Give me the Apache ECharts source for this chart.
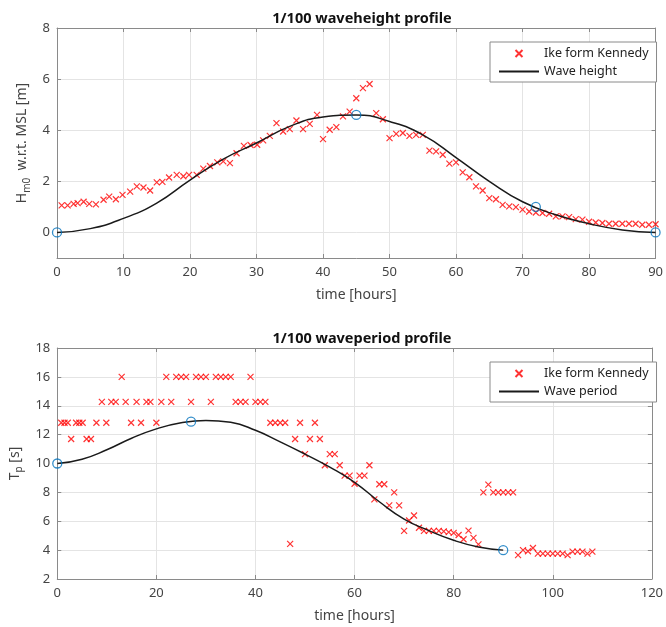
<!DOCTYPE html>
<html>
<head>
<meta charset="utf-8">
<script src="https://cdn.jsdelivr.net/npm/echarts@6/dist/echarts.min.js"></script>
<style>
html,body{margin:0;padding:0;background:#fff;}
#chart{width:666px;height:627px;}
</style>
</head>
<body>
<div id="chart"></div>
<script>
// ---------- DATA ----------
const heightTitle = '1/100 waveheight profile';
const periodTitle = '1/100 waveperiod profile';
const xName = 'time [hours]';
const obsName = 'Ike form Kennedy';
const heightLineName = 'Wave height';
const periodLineName = 'Wave period';

const heightXTicks = [0, 10, 20, 30, 40, 50, 60, 70, 80, 90];
const heightYTicks = [0, 2, 4, 6, 8];
const periodXTicks = [0, 20, 40, 60, 80, 100, 120];
const periodYTicks = [2, 4, 6, 8, 10, 12, 14, 16, 18];

// observed wave height [hour, m]
const heightObs = [
  [0.7,1.06],[1.6,1.06],[2.5,1.12],[3.1,1.15],[4.0,1.2],[4.85,1.12],[5.85,1.1],[7.0,1.28],[7.85,1.4],[8.85,1.3],
  [9.85,1.47],[11.0,1.6],[12.0,1.8],[13.0,1.76],[14.0,1.64],[15.0,1.96],[15.85,1.98],[16.85,2.15],[18.0,2.25],[19.0,2.2],
  [19.85,2.25],[21.0,2.25],[22.0,2.5],[23.0,2.6],[24.1,2.74],[25.0,2.78],[26.0,2.71],[27.0,3.1],[28.1,3.39],[29.1,3.42],
  [30.1,3.43],[31.0,3.6],[32.0,3.78],[33.0,4.28],[34.0,3.95],[35.0,4.04],[36.0,4.38],[37.0,4.04],[38.0,4.25],[39.1,4.6],
  [40.0,3.65],[41.0,4.02],[42.0,4.12],[43.0,4.54],[44.0,4.73],[45.0,5.25],[46.0,5.65],[47.0,5.81],[48,4.67],[49,4.43],
  [50,3.69],[51,3.86],[52,3.89],[53,3.78],[54,3.82],[55,3.82],[56,3.2],[57,3.17],[58,3.04],[59,2.69],
  [60,2.74],[61,2.35],[62,2.16],[63,1.8],[64,1.64],[65,1.34],[66,1.3],[67,1.08],[68,1.02],[69,0.99],
  [70,0.89],[71,0.82],[72,0.78],[73,0.76],[74,0.73],[75,0.63],[76,0.63],[77,0.6],[78,0.52],[79,0.5],
  [80,0.42],[81,0.39],[82,0.37],[83,0.34],[84,0.34],[85,0.34],[86,0.34],[87,0.34],[88,0.3],[89,0.3],[90,0.32]
];
// design wave height profile [hour, m]
const heightCurve = [
  [0,0],[5,0.15],[10,0.55],[15,1.15],[20,2.05],[25,2.87],[30,3.5],[35,4.15],[40,4.52],[45,4.6],
  [50,4.34],[55,3.82],[60,2.93],[65,2.0],[70,1.2],[75,0.69],[80,0.34],[85,0.1],[90,0]
];
const heightNodes = [[0,0],[45,4.6],[72,1.0],[90,0]];

// observed wave period [hour, s]
const periodObs = [
  [0.8,12.82],[1.46,12.82],[2.12,12.82],[2.8,11.7],[3.8,12.82],[4.45,12.82],[5.12,12.82],[5.92,11.7],[6.8,11.7],[7.9,12.82],
  [9,14.27],[9.9,12.82],[10.9,14.27],[11.8,14.27],[13,16],[13.8,14.27],[14.9,12.82],[16,14.27],[16.9,12.82],[18,14.27],
  [18.8,14.27],[20,12.82],[21,14.27],[22,16],[23,14.27],[24,16],[25,16],[26,16],[27,14.27],[28,16],
  [29,16],[30,16],[31,14.27],[32,16],[33,16],[34,16],[35,16],[36,14.27],[37,14.27],[38,14.27],
  [39,16],[40,14.27],[41,14.27],[42,14.27],[43,12.82],[44,12.82],[45,12.82],[46,12.82],[47,4.43],[48,11.7],
  [49,12.82],[50,10.65],[51,11.7],[52,12.82],[53,11.7],[54,9.88],[55,10.65],[56,10.65],[57,9.88],[58,9.16],
  [59,9.16],[60,8.6],[61,9.16],[62,9.16],[63,9.88],[64,7.52],[65,8.56],[66,8.56],[67,7.1],[68,8.0],
  [69,7.1],[70,5.33],[71,6.05],[72,6.4],[73,5.55],[74,5.33],[75,5.33],[76,5.33],[77,5.33],[78,5.3],
  [79,5.25],[80,5.2],[81,5.05],[82,4.75],[83,5.35],[84,4.85],[85,4.4],[86,8.0],[87,8.54],[88,8.0],
  [89,8.0],[90,8.0],[91,8.0],[92,8.0],[93,3.65],[94,4.0],[95,3.92],[96,4.15],[97,3.76],[98,3.76],
  [99,3.76],[100,3.76],[101,3.76],[102,3.76],[103,3.65],[104,3.9],[105,3.9],[106,3.9],[107,3.76],[108,3.9]
];
// design wave period profile [hour, s]
const periodCurve = [
  [0,10],[5,10.3],[10,10.95],[15,11.75],[20,12.4],[25,12.82],[30,12.98],[35,12.85],[40,12.3],
  [45,11.5],[50,10.65],[55,9.75],[60,8.7],[65,7.35],[70,6.15],[75,5.35],[80,4.68],[85,4.22],[90,4.0]
];
const periodNodes = [[0,10],[27,12.9],[90,4.0]];

// ---------- STYLE ----------
const FONT = 'Noto Sans';
const axisGray = '#8a8a8a';
const labelGray = '#444';
const gridGray = '#e4e4e4';
const crossPath = 'path://M0,0L10,10M10,0L0,10';

function xAxes(gridIndex, max, interval, ticks) {
  return [
    {
      gridIndex, type: 'value', min: 0, max, interval, position: 'bottom',
      name: xName, nameLocation: 'middle', nameGap: 30,
      nameTextStyle: { fontFamily: FONT, fontSize: 14, color: labelGray },
      axisLine: { show: true, onZero: false, lineStyle: { color: axisGray, width: 1 } },
      axisTick: { show: true, inside: true, length: 4, lineStyle: { color: axisGray } },
      axisLabel: { show: true, margin: 8, fontFamily: FONT, fontSize: 13, color: labelGray,
        formatter: v => (ticks.indexOf(v) >= 0 ? String(v) : '') },
      splitLine: { show: true, lineStyle: { color: gridGray, width: 1 } }
    },
    {
      gridIndex, type: 'value', min: 0, max, interval, position: 'top',
      axisLine: { show: true, onZero: false, lineStyle: { color: axisGray, width: 1 } },
      axisTick: { show: true, inside: true, length: 4, lineStyle: { color: axisGray } },
      axisLabel: { show: false },
      splitLine: { show: false }
    }
  ];
}

function yAxes(gridIndex, min, max, ticks, name, rich, nameGap) {
  const common = {
    gridIndex, type: 'value', min, max,
    axisTick: { show: true, inside: true, length: 4, lineStyle: { color: axisGray }, customValues: ticks },
    axisLine: { show: true, onZero: false, lineStyle: { color: axisGray, width: 1 } }
  };
  return [
    Object.assign({}, common, {
      position: 'left',
      name, nameLocation: 'middle', nameGap,
      nameTextStyle: { fontFamily: FONT, fontSize: 14, color: labelGray, rich },
      axisLabel: { show: true, margin: 7, fontFamily: FONT, fontSize: 13, color: labelGray, customValues: ticks },
      splitLine: { show: true, lineStyle: { color: gridGray, width: 1 } }
    }),
    Object.assign({}, common, {
      position: 'right',
      axisLabel: { show: false, customValues: ticks },
      splitLine: { show: false }
    })
  ];
}

const subRich = {
  a: { fontFamily: FONT, fontSize: 14, color: labelGray, lineHeight: 19 },
  b: { fontFamily: FONT, fontSize: 10, color: labelGray, lineHeight: 11, verticalAlign: 'bottom' }
};

function legend(lineName, top) {
  return {
    data: [obsName, lineName],
    orient: 'vertical',
    left: 490, top,
    width: 154,
    backgroundColor: '#fff',
    borderColor: '#8a8a8a', borderWidth: 1, borderRadius: 0,
    padding: [5, 8, 4, 8],
    itemWidth: 40, itemHeight: 7, itemGap: 5,
    textStyle: { fontFamily: FONT, fontSize: 12.5, color: '#222' },
    selectedMode: false
  };
}

function obsSeries(data, xi, yi) {
  return {
    name: obsName, type: 'scatter', xAxisIndex: xi, yAxisIndex: yi, data,
    symbol: crossPath, symbolSize: 6,
    itemStyle: { color: 'rgba(0,0,0,0)', borderColor: '#ff0000', borderWidth: 1.2 },
    emphasis: { disabled: true }, z: 2
  };
}
function curveSeries(name, data, xi, yi) {
  return {
    name, type: 'line', xAxisIndex: xi, yAxisIndex: yi, data,
    smooth: 0.5, symbol: 'none',
    lineStyle: { color: '#1a1a1a', width: 1.5 },
    itemStyle: { color: 'rgba(0,0,0,0)', borderColor: 'rgba(0,0,0,0)' },
    emphasis: { disabled: true }, z: 3
  };
}
function nodeSeries(name, data, xi, yi) {
  return {
    name, type: 'scatter', xAxisIndex: xi, yAxisIndex: yi, data,
    symbol: 'circle', symbolSize: 9,
    itemStyle: { color: 'rgba(0,0,0,0)', borderColor: '#0072BD', borderWidth: 1.3 },
    emphasis: { disabled: true }, z: 4
  };
}

const option = {
  animation: false,
  backgroundColor: '#fff',
  title: [
    { text: heightTitle, left: 357, top: 6, textAlign: 'center',
      textStyle: { fontFamily: FONT, fontSize: 14.5, fontWeight: 'bold', color: '#111' } },
    { text: periodTitle, left: 357, top: 326, textAlign: 'center',
      textStyle: { fontFamily: FONT, fontSize: 14.5, fontWeight: 'bold', color: '#111' } }
  ],
  legend: [legend(heightLineName, 42), legend(periodLineName, 362)],
  grid: [
    { left: 57, top: 28, width: 601, height: 230 },
    { left: 57, top: 348, width: 601, height: 231 }
  ],
  xAxis: [].concat(xAxes(0, 90, 10, heightXTicks), xAxes(1, 120, 20, periodXTicks)),
  yAxis: [].concat(
    yAxes(0, -1, 8, heightYTicks, '{a|H}{b|m0}{a|  w.r.t. MSL [m]}', subRich, 25),
    yAxes(1, 2, 18, periodYTicks, '{a|T}{b|p}{a| [s]}', subRich, 25)
  ),
  series: [
    obsSeries(heightObs, 0, 0),
    curveSeries(heightLineName, heightCurve, 0, 0),
    nodeSeries('height nodes', heightNodes, 0, 0),
    obsSeries(periodObs, 2, 2),
    curveSeries(periodLineName, periodCurve, 2, 2),
    nodeSeries('period nodes', periodNodes, 2, 2)
  ]
};

const chart = echarts.init(document.getElementById('chart'), null, { renderer: 'canvas' });
chart.setOption(option);
</script>
</body>
</html>
